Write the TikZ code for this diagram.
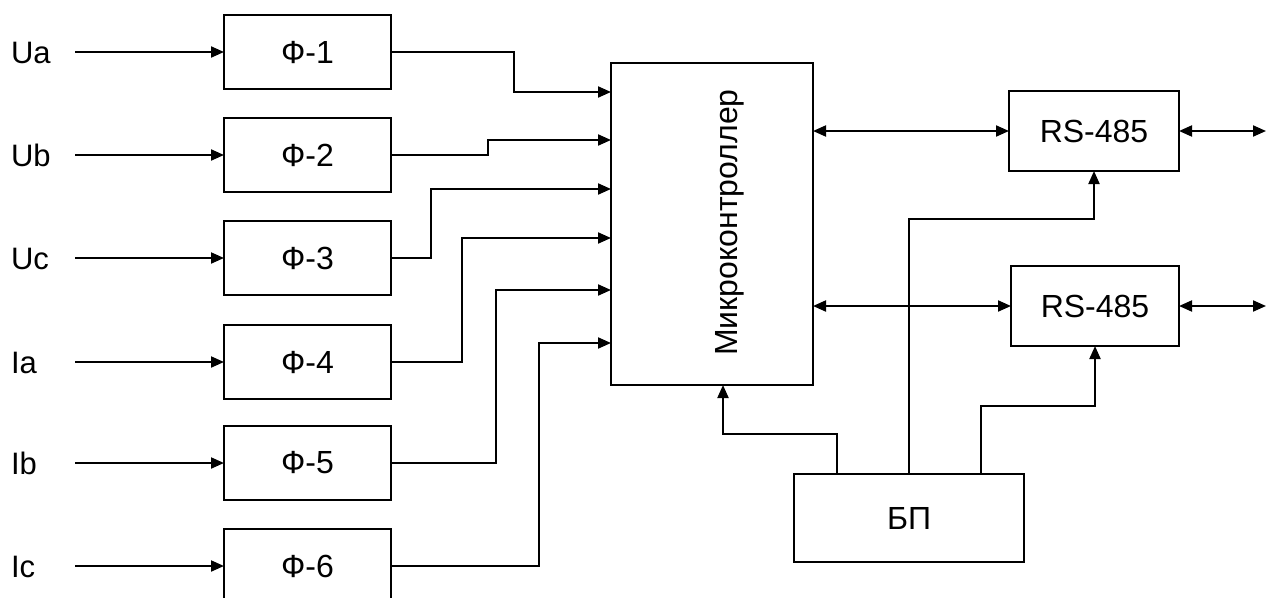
\documentclass[tikz,border=0pt]{standalone}
\usepackage{fontspec}
\setmainfont{Liberation Sans}
\usetikzlibrary{arrows.meta}
\begin{document}
\begin{tikzpicture}[x=1pt,y=-1pt,
  line width=2pt, line join=miter,
  box/.style={draw, rectangle, inner sep=0pt, outer sep=0pt, font=\fontsize{32}{38}\selectfont},
  lbl/.style={anchor=base west, inner sep=0pt, font=\fontsize{31}{37}\selectfont},
  arr/.style={-{Triangle[length=13pt,width=11pt]}},
  darr/.style={{Triangle[length=13pt,width=11pt]}-{Triangle[length=13pt,width=11pt]}}]
\useasboundingbox (0,0) rectangle (1266,597);
\fill[white] (0,0) rectangle (1266,597);
% filters
\node[box, minimum width=167pt, minimum height=74pt] (f1) at (307.5,52) {Ф-1};
\node[box, minimum width=167pt, minimum height=74pt] (f2) at (307.5,155) {Ф-2};
\node[box, minimum width=167pt, minimum height=74pt] (f3) at (307.5,258) {Ф-3};
\node[box, minimum width=167pt, minimum height=74pt] (f4) at (307.5,362) {Ф-4};
\node[box, minimum width=167pt, minimum height=74pt] (f5) at (307.5,463) {Ф-5};
\node[box, minimum width=167pt, minimum height=74pt] (f6) at (307.5,566) {Ф-6};
% labels
\node[lbl] (lua) at (10,63) {Ua};
\node[lbl] (lub) at (10,166) {Ub};
\node[lbl] (luc) at (10,269) {Uc};
\node[lbl] (lia) at (10,373) {Ia};
\node[lbl] (lib) at (10,474) {Ib};
\node[lbl] (lic) at (10,577) {Ic};
% input start points
\coordinate (s1) at ([xshift=-149pt]f1.west);
\coordinate (s2) at ([xshift=-149pt]f2.west);
\coordinate (s3) at ([xshift=-149pt]f3.west);
\coordinate (s4) at ([xshift=-149pt]f4.west);
\coordinate (s5) at ([xshift=-149pt]f5.west);
\coordinate (s6) at ([xshift=-149pt]f6.west);
\foreach \i in {1,...,6} {\draw[arr] (s\i) -- (f\i.west);}
% microcontroller
\node[box, minimum width=202pt, minimum height=322pt] (mc) at (712,224) {};
\node[rotate=90, anchor=base, inner sep=0pt, font=\fontsize{32}{38}\selectfont] (mctext) at (737,222.5) {Микроконтроллер};
\coordinate (in1) at (611,92);
\coordinate (in2) at (611,140);
\coordinate (in3) at (611,189);
\coordinate (in4) at (611,238);
\coordinate (in5) at (611,290);
\coordinate (in6) at (611,343);
\draw[arr] (f1.east) -| (514,92) -- (in1);
\draw[arr] (f2.east) -| (488,140) -- (in2);
\draw[arr] (f3.east) -| (431,189) -- (in3);
\draw[arr] (f4.east) -| (462,238) -- (in4);
\draw[arr] (f5.east) -| (496,290) -- (in5);
\draw[arr] (f6.east) -| (539,343) -- (in6);
% RS-485
\node[box, minimum width=170pt, minimum height=80pt] (rs1) at (1094,131) {RS-485};
\node[box, minimum width=168pt, minimum height=80pt] (rs2) at (1095,306) {RS-485};
\coordinate (o1) at (1266,131);
\coordinate (o2) at (1266,306);
\draw[darr] (mc.east |- rs1.west) -- (rs1.west);
\draw[darr] (mc.east |- rs2.west) -- (rs2.west);
\draw[darr] (rs1.east) -- (o1);
\draw[darr] (rs2.east) -- (o2);
% power supply
\node[box, minimum width=230pt, minimum height=88pt] (bp) at (909,518) {БП};
\draw[arr] ([xshift=-72pt]bp.north) |- (723,434) -- ([xshift=11pt]mc.south);
\draw[arr] (bp.north) |- ([yshift=-48pt]rs1.south) -- (rs1.south);
\draw[arr] ([xshift=72pt]bp.north) |- ([yshift=-60pt]rs2.south) -- (rs2.south);
\end{tikzpicture}
\end{document}
